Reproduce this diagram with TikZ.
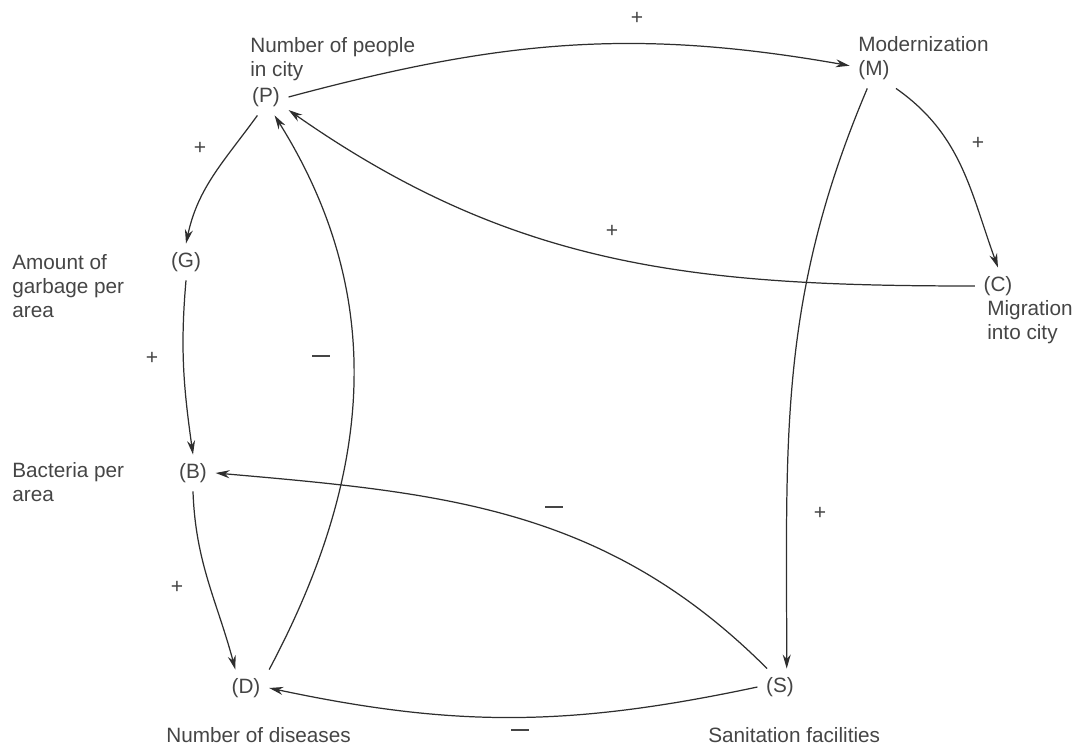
\documentclass[tikz,border=0pt]{standalone}
\usepackage{fontspec}
\setmainfont{Liberation Sans}
\usetikzlibrary{arrows.meta}
\definecolor{ink}{HTML}{454545}
\definecolor{wire}{HTML}{2E2E2E}
\newcommand{\minussign}{\rule[0.28em]{0.85em}{0.9pt}}

\begin{document}
\begin{tikzpicture}[
  x=0.02cm,y=0.02cm,
  var/.style={inner sep=1pt,outer sep=4pt,font=\fontsize{11.8}{13.6}\selectfont,text=ink},
  desc/.style={anchor=west,align=left,inner sep=0pt,font=\fontsize{11.8}{13.6}\selectfont,text=ink},
  sgn/.style={font=\fontsize{12}{14}\selectfont,text=ink},
  ar/.style={-{Stealth[length=2.8mm,width=1.6mm]},draw=wire,line width=0.7pt}
]
\useasboundingbox (0,0) rectangle (1073,-746);

% variables
\node[var] (P) at (266,-97) {(P)};
\node[var] (M) at (874,-70) {(M)};
\node[var] (G) at (186,-262) {(G)};
\node[var] (B) at (193,-473) {(B)};
\node[var] (D) at (246,-688) {(D)};
\node[var] (S) at (780,-687) {(S)};
\node[var] (C) at (998,-286) {(C)};

% descriptions
\node[desc] (pdesc) at (250,-59) {Number of people\\in city};
\node[desc] (mdesc) at (858,-44) {Modernization};
\node[desc] (gdesc) at (12,-286) {Amount of\\garbage per\\area};
\node[desc] (bdesc) at (12,-482) {Bacteria per\\area};
\node[desc] (ddesc) at (166,-735) {Number of diseases};
\node[desc] (sdesc) at (708,-735) {Sanitation facilities};
\node[desc] (cdesc) at (987,-322) {Migration\\into city};

% links
\draw[ar] (P.east) to[out=15,in=170] (M.170);
\draw[ar] (P.-115) to[out=-126,in=78] (G.north);
\draw[ar] (G.south) to[out=-95,in=98] (B.north);
\draw[ar] (B.south) to[out=-88,in=105] (D.120);
\draw[ar] (D.north east) to[out=62,in=-58] (P.-65);
\draw[ar] (C.west) to[out=180,in=-35] (P.-30);
\draw[ar] (M.-40) to[out=-35,in=110] (C.north);
\draw[ar] (M.-110) to[out=-113,in=90] (S.70);
\draw[ar] (S.125) to[out=135,in=-5] (B.east);
\draw[ar] (S.west) to[out=192,in=-12] (D.east);

% polarities
\node[sgn] (s1) at (637,-18) {+};
\node[sgn] (s2) at (200,-148) {+};
\node[sgn] (s3) at (152,-358) {+};
\node[sgn] (s4) at (177,-587) {+};
\node[sgn] (s5) at (321,-359) {\minussign};
\node[sgn] (s6) at (612,-231) {+};
\node[sgn] (s7) at (978,-143) {+};
\node[sgn] (s8) at (820,-513) {+};
\node[sgn] (s9) at (554,-510) {\minussign};
\node[sgn] (s10) at (520,-733) {\minussign};
\end{tikzpicture}
\end{document}
